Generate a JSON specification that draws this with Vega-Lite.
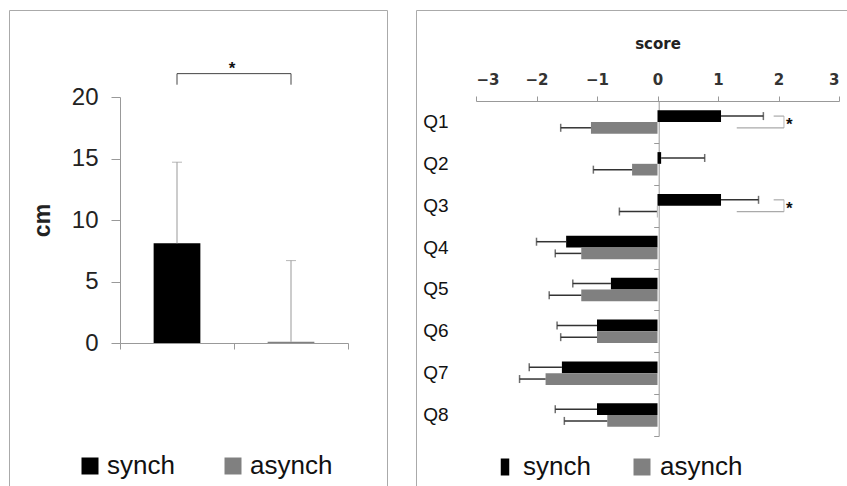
{
  "$schema": "https://vega.github.io/schema/vega-lite/v6.json",
  "padding": {"left": 8, "top": 9, "right": 0, "bottom": 0},
  "config": {
    "view": {"stroke": "#aaaaaa", "strokeWidth": 1},
    "font": "Liberation Sans",
    "axis": {"grid": false, "domainColor": "#999999", "tickColor": "#999999", "labelColor": "#222222", "titleColor": "#222222"},
    "legend": {"padding": 0}
  },
  "datasets": {
    "cm": [
      {"group": "synch", "value": 8.1, "err": 14.7},
      {"group": "asynch", "value": 0.1, "err": 6.7}
    ],
    "score": [
      {"q": "Q1", "group": "synch", "value": 1.05, "err": 1.75},
      {"q": "Q1", "group": "asynch", "value": -1.10, "err": -1.60},
      {"q": "Q2", "group": "synch", "value": 0.06, "err": 0.78},
      {"q": "Q2", "group": "asynch", "value": -0.42, "err": -1.06},
      {"q": "Q3", "group": "synch", "value": 1.05, "err": 1.67},
      {"q": "Q3", "group": "asynch", "value": -0.01, "err": -0.63},
      {"q": "Q4", "group": "synch", "value": -1.51, "err": -2.00},
      {"q": "Q4", "group": "asynch", "value": -1.26, "err": -1.69},
      {"q": "Q5", "group": "synch", "value": -0.77, "err": -1.40},
      {"q": "Q5", "group": "asynch", "value": -1.26, "err": -1.79},
      {"q": "Q6", "group": "synch", "value": -1.00, "err": -1.66},
      {"q": "Q6", "group": "asynch", "value": -1.00, "err": -1.60},
      {"q": "Q7", "group": "synch", "value": -1.58, "err": -2.12},
      {"q": "Q7", "group": "asynch", "value": -1.85, "err": -2.28},
      {"q": "Q8", "group": "synch", "value": -1.00, "err": -1.69},
      {"q": "Q8", "group": "asynch", "value": -0.83, "err": -1.54}
    ],
    "sig": [{"q": "Q1"}, {"q": "Q3"}]
  },
  "spacing": 27,
  "resolve": {"scale": {"color": "independent"}, "legend": {"color": "independent"}},
  "hconcat": [
    {
      "width": 378,
      "height": 486,
      "data": {"name": "cm"},
      "encoding": {
        "x": {
          "field": "group", "type": "nominal", "sort": ["synch", "asynch"],
          "scale": {"domain": ["synch", "asynch"], "range": [111, 339], "paddingInner": 0, "paddingOuter": 0},
          "axis": {"orient": "bottom", "offset": -153, "tickBand": "extent", "tickSize": 6, "labels": false, "title": null}
        }
      },
      "layer": [
        {
          "mark": {"type": "bar", "width": {"band": 0.41}},
          "encoding": {
            "y": {
              "field": "value", "type": "quantitative",
              "scale": {"domain": [0, 20], "range": [333, 87], "nice": false, "zero": true},
              "axis": {"orient": "left", "offset": -111, "values": [0, 5, 10, 15, 20], "tickSize": 9, "labelPadding": 13, "labelFontSize": 24, "title": "cm", "titleFontSize": 23, "titleFontWeight": "bold", "titlePadding": 17}
            },
            "color": {
              "field": "group", "type": "nominal",
              "scale": {"domain": ["synch", "asynch"], "range": ["#000000", "#808080"]},
              "legend": {"orient": "none", "legendX": 68, "legendY": 443, "direction": "horizontal", "title": null, "symbolType": "square", "symbolSize": 289, "symbolStrokeWidth": 0, "labelFontSize": 26, "labelColor": "#111111", "labelOffset": 4, "columnPadding": 45}
            }
          }
        },
        {
          "mark": {"type": "rule", "color": "#999999", "strokeWidth": 1},
          "encoding": {
            "y": {"field": "value", "type": "quantitative"},
            "y2": {"field": "err"}
          }
        },
        {
          "mark": {"type": "tick", "color": "#999999", "thickness": 1, "size": 10},
          "encoding": {
            "y": {"field": "err", "type": "quantitative"}
          }
        },
        {
          "mark": {"type": "rule", "color": "#444444", "strokeWidth": 1},
          "encoding": {
            "y": {"datum": 21.9},
            "y2": {"datum": 21.0}
          }
        },
        {
          "data": {"values": [{"from": "synch", "to": "asynch"}]},
          "mark": {"type": "rule", "color": "#444444", "strokeWidth": 1},
          "encoding": {
            "x": {"field": "from", "type": "nominal"},
            "x2": {"field": "to"},
            "y": {"datum": 21.9}
          }
        },
        {
          "data": {"values": [{"from": "synch", "label": "*"}]},
          "mark": {"type": "text", "fontSize": 17, "fontWeight": "bold", "color": "#111111", "dx": 55, "baseline": "middle"},
          "encoding": {
            "x": {"field": "from", "type": "nominal"},
            "y": {"datum": 22.3},
            "text": {"field": "label"}
          }
        }
      ]
    },
    {
      "width": 438,
      "height": 486,
      "resolve": {"axis": {"y": "independent"}},
      "layer": [
        {
          "data": {"name": "score"},
          "mark": {"type": "bar"},
          "encoding": {
            "y": {
              "field": "q", "type": "nominal", "sort": ["Q1", "Q2", "Q3", "Q4", "Q5", "Q6", "Q7", "Q8"],
              "scale": {"range": [91, 426], "paddingInner": 0, "paddingOuter": 0},
              "axis": {"orient": "left", "offset": -32, "domain": false, "ticks": false, "labelAlign": "right", "labelPadding": 0, "labelFontSize": 19, "labelColor": "#111111", "title": null}
            },
            "yOffset": {
              "field": "group", "type": "nominal", "sort": ["synch", "asynch"],
              "scale": {"paddingInner": 0, "paddingOuter": 0.79}
            },
            "x": {
              "field": "value", "type": "quantitative",
              "scale": {"domain": [-3, 3], "range": [60, 423], "nice": false},
              "axis": {"orient": "top", "offset": -91, "values": [-3, -2, -1, 0, 1, 2, 3], "format": "d", "tickSize": 5, "labelPadding": 9, "labelFont": "DejaVu Sans", "labelFontSize": 15, "labelFontWeight": "bold", "labelColor": "#333333", "title": "score", "titleFont": "DejaVu Sans", "titleFontSize": 15, "titleFontWeight": "bold", "titlePadding": 21}
            },
            "color": {
              "field": "group", "type": "nominal",
              "scale": {"domain": ["synch", "asynch"], "range": ["#000000", "#808080"]},
              "legend": {
                "orient": "none", "legendX": 76, "legendY": 444, "direction": "horizontal", "title": null,
                "symbolSize": 289, "symbolStrokeWidth": 0, "labelFontSize": 26, "labelColor": "#111111", "labelOffset": 5, "columnPadding": 38,
                "encode": {"symbols": {"update": {"shape": {"signal": "datum.value === 'synch' ? 'M-0.5,-1h1v2h-1z' : 'square'"}}}}
              }
            }
          }
        },
        {
          "data": {"name": "score"},
          "mark": {"type": "rule", "color": "#333333", "strokeWidth": 1.5},
          "encoding": {
            "y": {
              "field": "q", "type": "nominal", "sort": ["Q1", "Q2", "Q3", "Q4", "Q5", "Q6", "Q7", "Q8"],
              "axis": {"orient": "left", "offset": -242.7, "domain": true, "ticks": true, "tickBand": "extent", "tickSize": 5, "labels": false, "title": null}
            },
            "yOffset": {"field": "group", "type": "nominal", "sort": ["synch", "asynch"]},
            "x": {"field": "value", "type": "quantitative"},
            "x2": {"field": "err"}
          }
        },
        {
          "data": {"name": "score"},
          "mark": {"type": "tick", "color": "#333333", "thickness": 1.5, "size": 8},
          "encoding": {
            "y": {"field": "q", "type": "nominal", "sort": ["Q1", "Q2", "Q3", "Q4", "Q5", "Q6", "Q7", "Q8"], "axis": null},
            "yOffset": {"field": "group", "type": "nominal", "sort": ["synch", "asynch"]},
            "x": {"field": "err", "type": "quantitative"}
          }
        },
        {
          "data": {"name": "sig"},
          "mark": {"type": "rule", "color": "#aaaaaa", "strokeWidth": 1.2},
          "encoding": {
            "y": {"field": "q", "type": "nominal", "sort": ["Q1", "Q2", "Q3", "Q4", "Q5", "Q6", "Q7", "Q8"], "axis": null},
            "yOffset": {"datum": "synch"},
            "x": {"datum": 1.92},
            "x2": {"datum": 2.09}
          }
        },
        {
          "data": {"name": "sig"},
          "mark": {"type": "rule", "color": "#aaaaaa", "strokeWidth": 1.2},
          "encoding": {
            "y": {"field": "q", "type": "nominal", "sort": ["Q1", "Q2", "Q3", "Q4", "Q5", "Q6", "Q7", "Q8"], "axis": null},
            "yOffset": {"datum": "asynch"},
            "x": {"datum": 1.31},
            "x2": {"datum": 2.09}
          }
        },
        {
          "data": {"name": "sig"},
          "mark": {"type": "tick", "color": "#aaaaaa", "thickness": 1.2, "size": 12},
          "encoding": {
            "y": {"field": "q", "type": "nominal", "sort": ["Q1", "Q2", "Q3", "Q4", "Q5", "Q6", "Q7", "Q8"], "axis": null},
            "x": {"datum": 2.09}
          }
        },
        {
          "data": {"name": "sig"},
          "mark": {"type": "text", "text": "*", "fontSize": 17, "fontWeight": "bold", "color": "#111111", "baseline": "middle", "align": "center", "dy": 3},
          "encoding": {
            "y": {"field": "q", "type": "nominal", "sort": ["Q1", "Q2", "Q3", "Q4", "Q5", "Q6", "Q7", "Q8"], "axis": null},
            "x": {"datum": 2.18}
          }
        }
      ]
    }
  ]
}
